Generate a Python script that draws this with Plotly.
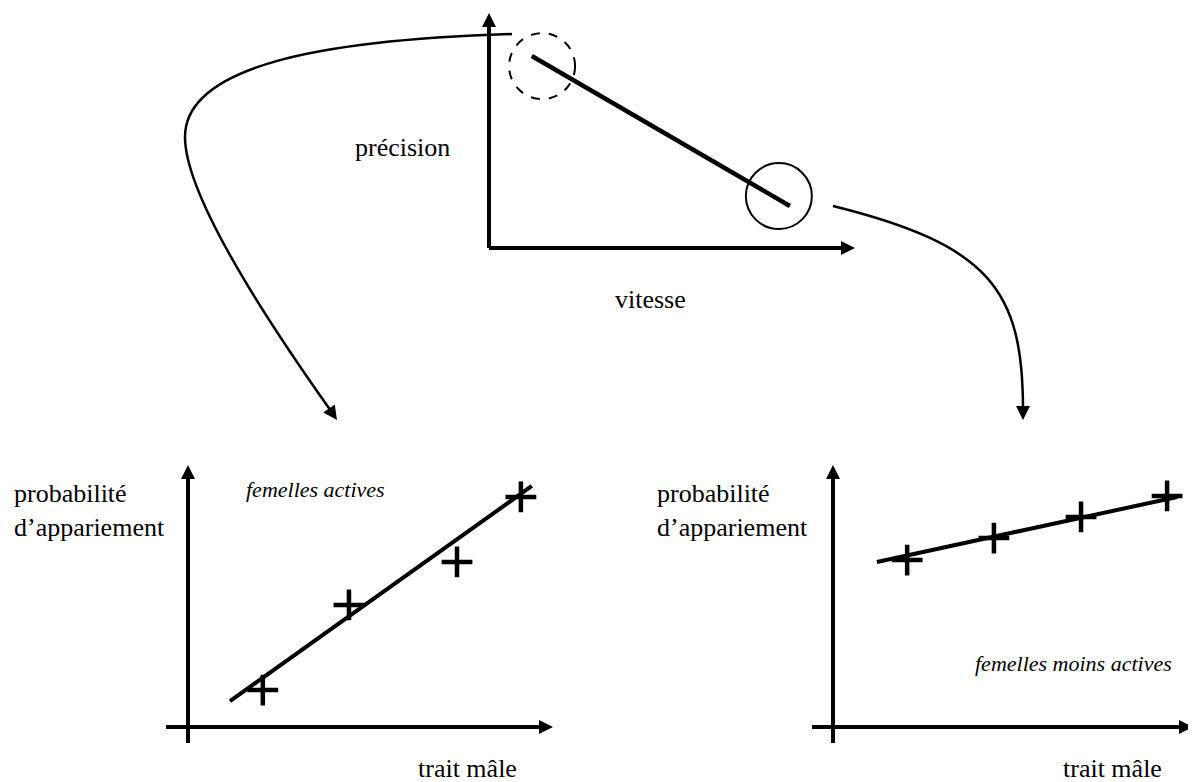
import plotly.graph_objects as go

W, H = 1196, 782
# the page body keeps its default 8px margin, so the figure starts at (8, 8)
OFF = 8

# compromis vitesse / précision (panneau du haut)
trade_speed = [0.117, 0.822]
trade_precision = [0.817, 0.179]
focus_speed = [0.145, 0.792]
focus_precision = [0.774, 0.221]

# femelles actives (bas gauche)
active_trait = [0.205, 0.441, 0.737, 0.912]
active_prob = [0.141, 0.466, 0.630, 0.878]
active_fit_x = [0.115, 0.942]
active_fit_y = [0.099, 0.920]

# femelles moins actives (bas droite)
passive_trait = [0.206, 0.447, 0.689, 0.928]
passive_prob = [0.637, 0.721, 0.802, 0.882]
passive_fit_x = [0.122, 0.956]
passive_fit_y = [0.630, 0.878]

SERIF = "Liberation Serif, Times New Roman, serif"


def px(x):
    return (x - OFF) / (W - OFF)


def py(y):
    return 1 - (y - OFF) / (H - OFF)


def seg(x0, y0, x1, y1, width=4):
    return dict(type="line", xref="paper", yref="paper",
                x0=px(x0), y0=py(y0), x1=px(x1), y1=py(y1),
                line=dict(color="black", width=width))


def head(tx, ty, dx, dy, length=14, half=7):
    n = (dx * dx + dy * dy) ** 0.5
    dx, dy = dx / n, dy / n
    bx, by = tx - dx * length, ty - dy * length
    ax, ay = bx - dy * half, by + dx * half
    cx, cy = bx + dy * half, by - dx * half
    path = (f"M {px(tx)} {py(ty)} L {px(ax)} {py(ay)} "
            f"L {px(cx)} {py(cy)} Z")
    return dict(type="path", xref="paper", yref="paper", path=path,
                fillcolor="black", line=dict(width=0))


def curve(points, width=2.5):
    (x0, y0) = points[0]
    d = f"M {px(x0)} {py(y0)}"
    for i in range(1, len(points), 3):
        c = points[i:i + 3]
        d += " C " + ", ".join(f"{px(a)} {py(b)}" for a, b in c)
    return dict(type="path", xref="paper", yref="paper", path=d,
                line=dict(color="black", width=width))


def axes_arrows(ox, oy, x_start, x_tip, y_start, y_tip, width=4):
    return [
        seg(ox, y_start, ox, y_tip + 12, width),
        head(ox, y_tip, 0, -1),
        seg(x_start, oy, x_tip - 12, oy, width),
        head(x_tip, oy, 1, 0),
    ]


fig = go.Figure()

fig.add_trace(go.Scatter(x=trade_speed, y=trade_precision, mode="lines",
                         line=dict(color="black", width=4.5),
                         xaxis="x", yaxis="y", showlegend=False))

for xs, ys, fx, fy, ax in [
    (active_trait, active_prob, active_fit_x, active_fit_y, "2"),
    (passive_trait, passive_prob, passive_fit_x, passive_fit_y, "3"),
]:
    fig.add_trace(go.Scatter(x=fx, y=fy, mode="lines",
                             line=dict(color="black", width=4),
                             xaxis="x" + ax, yaxis="y" + ax, showlegend=False))
    fig.add_trace(go.Scatter(x=xs, y=ys, mode="markers",
                             marker=dict(symbol="cross-thin", size=22,
                                         line=dict(color="black", width=4.5)),
                             xaxis="x" + ax, yaxis="y" + ax, showlegend=False))

shapes = []
shapes += axes_arrows(489, 248, 489, 855, 248, 13)
shapes += axes_arrows(188, 727, 166, 553, 743, 465)
shapes += axes_arrows(833, 727, 812, 1193, 743, 465)

for cx, cy, dash in zip(focus_speed, focus_precision, ["dash", "solid"]):
    shapes.append(dict(type="circle", xref="x", yref="y",
                       xsizemode="pixel", ysizemode="pixel",
                       xanchor=cx, yanchor=cy, x0=-33, x1=33, y0=-33, y1=33,
                       line=dict(color="black", width=2, dash=dash)))

# flèches courbes vers les deux situations
shapes.append(curve([(512, 34), (320, 40), (185, 66), (185, 137),
                     (185, 195), (265, 318), (331, 411)]))
shapes.append(head(337, 420, 0.57, 0.82))
shapes.append(curve([(833, 206), (990, 245), (1023, 290), (1023, 410)]))
shapes.append(head(1023, 420, 0, 1))


def label(text, x, y, size=26, italic=False, xanchor="center", align="center"):
    return dict(text=text, x=px(x), y=py(y), xref="paper", yref="paper",
                showarrow=False, xanchor=xanchor, yanchor="middle", align=align,
                font=dict(family=SERIF, size=size, color="black",
                          style="italic" if italic else "normal"))


annotations = [
    label("précision", 402, 147),
    label("vitesse", 651, 299),
    label("probabilité<br>d’appariement", 12, 510, xanchor="left", align="left"),
    label("probabilité<br>d’appariement", 655, 510, xanchor="left", align="left"),
    label("femelles actives", 315, 489, size=22, italic=True),
    label("femelles moins actives", 1073, 663, size=22, italic=True),
    label("trait mâle", 467, 768),
    label("trait mâle", 1112, 768),
]

hidden = dict(visible=False, range=[0, 1], fixedrange=True)
fig.update_layout(
    width=W - OFF, height=H - OFF,
    margin=dict(l=0, r=0, t=0, b=0),
    paper_bgcolor="white", plot_bgcolor="rgba(0,0,0,0)",
    xaxis=dict(hidden, domain=[px(489), px(855)]),
    yaxis=dict(hidden, domain=[py(248), py(13)]),
    xaxis2=dict(hidden, domain=[px(188), px(553)]),
    yaxis2=dict(hidden, domain=[py(727), py(465)]),
    xaxis3=dict(hidden, domain=[px(833), px(1193)]),
    yaxis3=dict(hidden, domain=[py(727), py(465)]),
    shapes=shapes,
    annotations=annotations,
    showlegend=False,
)

fig.write_html("out.html")
